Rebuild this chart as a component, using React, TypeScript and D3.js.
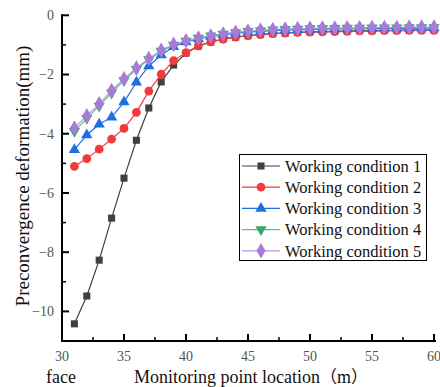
import React from "react";
import * as d3 from "d3";

const W = 440;
const H = 387;
const LEFT = 62;
const RIGHT = 434;
const TOP = 15.3;
const BOTTOM = 341;

const locations = d3.range(31, 61);
const seriesNames = [
  "Working condition 1",
  "Working condition 2",
  "Working condition 3",
  "Working condition 4",
  "Working condition 5",
];
const cond1 = [-10.42, -9.48, -8.27, -6.85, -5.5, -4.22, -3.13, -2.25, -1.68, -1.28, -1.04, -0.9, -0.8, -0.74, -0.69, -0.65, -0.62, -0.6, -0.58, -0.56, -0.55, -0.54, -0.53, -0.52, -0.52, -0.51, -0.51, -0.5, -0.5, -0.5];
const cond2 = [-5.1, -4.84, -4.52, -4.18, -3.82, -3.28, -2.56, -1.99, -1.53, -1.26, -1.03, -0.9, -0.81, -0.74, -0.69, -0.65, -0.62, -0.6, -0.58, -0.57, -0.56, -0.55, -0.54, -0.53, -0.53, -0.52, -0.52, -0.51, -0.51, -0.51];
const cond3 = [-4.54, -4.04, -3.68, -3.44, -2.93, -2.26, -1.71, -1.34, -1.06, -0.9, -0.8, -0.72, -0.66, -0.61, -0.57, -0.54, -0.52, -0.5, -0.49, -0.48, -0.47, -0.46, -0.46, -0.45, -0.45, -0.44, -0.44, -0.44, -0.43, -0.43];
const cond4 = [-3.92, -3.48, -3.06, -2.62, -2.2, -1.82, -1.49, -1.21, -1.0, -0.87, -0.77, -0.69, -0.63, -0.58, -0.54, -0.51, -0.49, -0.47, -0.46, -0.45, -0.44, -0.44, -0.43, -0.43, -0.42, -0.42, -0.42, -0.41, -0.41, -0.41];
const cond5 = [-3.81, -3.39, -2.99, -2.54, -2.14, -1.78, -1.46, -1.18, -0.98, -0.86, -0.77, -0.7, -0.63, -0.57, -0.53, -0.5, -0.48, -0.46, -0.45, -0.44, -0.43, -0.43, -0.42, -0.42, -0.41, -0.41, -0.41, -0.4, -0.4, -0.4];

const xTicks = [30, 35, 40, 45, 50, 55, 60];
const yTicks = [0, -2, -4, -6, -8, -10];

const series = [
  { name: seriesNames[0], values: cond1, color: "#404040", line: "#404040", symbol: d3.symbolSquare, size: 50, rot: 0 },
  { name: seriesNames[1], values: cond2, color: "#ef3b3b", line: "#ef3b3b", symbol: d3.symbolCircle, size: 60, rot: 0 },
  { name: seriesNames[2], values: cond3, color: "#1f6fe0", line: "#1f6fe0", symbol: d3.symbolTriangle, size: 55, rot: 0 },
  { name: seriesNames[3], values: cond4, color: "#34a865", line: "#5cc08a", symbol: d3.symbolTriangle, size: 55, rot: 180 },
  { name: seriesNames[4], values: cond5, color: "#a97ad8", line: "#b894e3", symbol: d3.symbolDiamond, size: 70, rot: 0 },
];

const x = d3.scaleLinear().domain([30, 60]).range([LEFT, RIGHT]);
const y = d3.scaleLinear().domain([-11, 0]).range([BOTTOM, TOP]);

const fmt = (v: number) => (v < 0 ? "\u2212" + Math.abs(v) : String(v));
const CJK = "'Noto Sans CJK SC', sans-serif";

export default function App() {
  const line = d3
    .line<number>()
    .x((_, i) => x(locations[i]))
    .y((d) => y(d));

  return (
    <svg
      width={W}
      height={H}
      style={{ position: "absolute", left: 0, top: 0, background: "#fff" }}
      fontFamily="'Liberation Serif', 'Times New Roman', serif"
    >
      {/* series */}
      {series.map((s) => (
        <g key={s.name}>
          <path d={line(s.values) || ""} fill="none" stroke={s.line} strokeWidth={1.2} />
          {s.values.map((v, i) => (
            <path
              key={i}
              d={d3.symbol(s.symbol, s.size)() || ""}
              transform={`translate(${x(locations[i])},${y(v)}) rotate(${s.rot})`}
              fill={s.color}
            />
          ))}
        </g>
      ))}

      {/* axes */}
      <line x1={LEFT} x2={LEFT} y1={TOP - 1} y2={BOTTOM + 1} stroke="#000" strokeWidth={2} />
      <line x1={LEFT - 1} x2={RIGHT + 2} y1={BOTTOM} y2={BOTTOM} stroke="#000" strokeWidth={2} />
      {yTicks.map((t) => (
        <g key={t}>
          <line x1={LEFT} x2={LEFT + 7} y1={y(t)} y2={y(t)} stroke="#000" strokeWidth={2} />
          <text x={LEFT - 8} y={y(t)} dy="0.35em" textAnchor="end" fontSize={14} fill="#555">
            {fmt(t)}
          </text>
        </g>
      ))}
      {d3.range(-1, -11, -2).map((t) => (
        <line key={t} x1={LEFT} x2={LEFT + 4} y1={y(t)} y2={y(t)} stroke="#000" strokeWidth={1.5} />
      ))}
      {xTicks.map((t) => (
        <g key={t}>
          <line x1={x(t)} x2={x(t)} y1={BOTTOM} y2={BOTTOM - 7} stroke="#000" strokeWidth={2} />
          <text x={x(t)} y={356} dy="0.35em" textAnchor="middle" fontSize={14} fill="#555">
            {t}
          </text>
        </g>
      ))}
      {d3.range(32.5, 60, 5).map((t) => (
        <line key={t} x1={x(t)} x2={x(t)} y1={BOTTOM} y2={BOTTOM - 4} stroke="#000" strokeWidth={1.5} />
      ))}

      {/* axis titles */}
      <text
        transform={`translate(22,176) rotate(-90)`}
        textAnchor="middle"
        dy="0.35em"
        fontSize={19}
        fill="#111"
      >
        Preconvergence deformation(mm)
      </text>
      <text x={61} y={377} dy="0.35em" textAnchor="middle" fontSize={18} fill="#111">
        face
      </text>
      <text x={134} y={377} dy="0.35em" fontSize={18} fill="#111">
        Monitoring point location
        <tspan fontFamily={CJK} fontSize={17}>（</tspan>
        m
        <tspan fontFamily={CJK} fontSize={17}>）</tspan>
      </text>

      {/* legend */}
      <rect x={239.5} y={154.5} width={187} height={106} fill="#fff" stroke="#000" strokeWidth={1} />
      {series.map((s, i) => {
        const cy = 166 + i * 21.2;
        return (
          <g key={s.name}>
            <line x1={242} x2={280} y1={cy} y2={cy} stroke={s.line} strokeWidth={1.2} />
            <path
              d={d3.symbol(s.symbol, s.size)() || ""}
              transform={`translate(261,${cy}) rotate(${s.rot})`}
              fill={s.color}
            />
            <text x={285} y={cy} dy="0.35em" fontSize={16.5} fill="#111">
              {s.name}
            </text>
          </g>
        );
      })}
    </svg>
  );
}
